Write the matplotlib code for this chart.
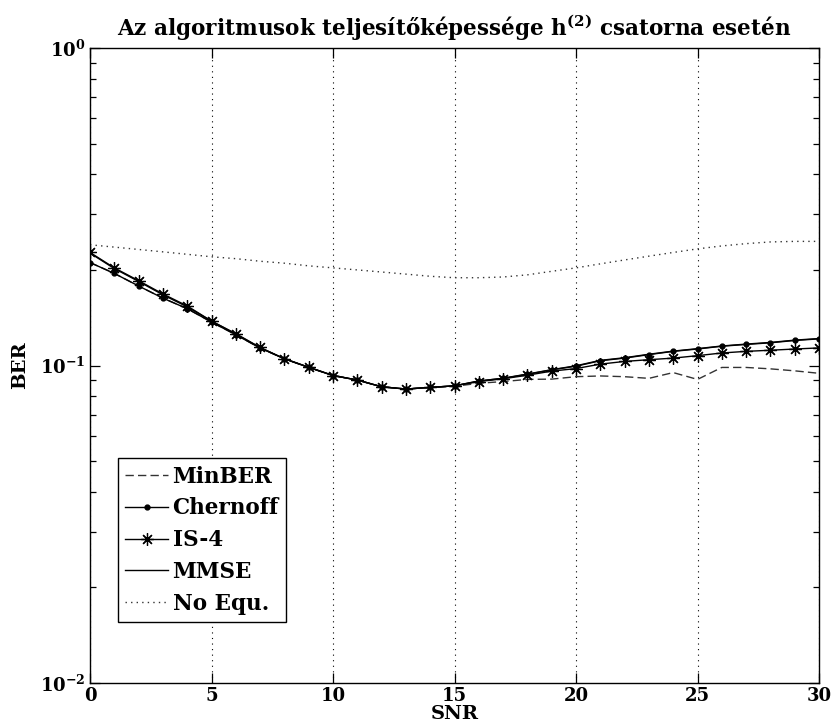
import numpy as np
import matplotlib
matplotlib.use("Agg")
import matplotlib.pyplot as plt

plt.rcParams['font.family'] = ['DejaVu Serif']
plt.rcParams['font.weight'] = 'bold'
plt.rcParams['mathtext.fontset'] = 'dejavuserif'

# SNR points and BER results of each equalizer
snr = list(range(0, 31))

minber = [0.211, 0.195, 0.178, 0.163, 0.151, 0.137, 0.125, 0.1135, 0.105, 0.0986,
          0.093, 0.090, 0.0857, 0.0843, 0.0853, 0.0860, 0.0879, 0.0890, 0.0904, 0.0906,
          0.0922, 0.0927, 0.0922, 0.0911, 0.0950, 0.0904, 0.0986, 0.0986, 0.0976, 0.0962,
          0.0945]
chernoff = [0.211, 0.195, 0.178, 0.163, 0.151, 0.137, 0.125, 0.1135, 0.105, 0.0986,
            0.093, 0.090, 0.0857, 0.0843, 0.0853, 0.0863, 0.0894, 0.0911, 0.0938, 0.0969,
            0.0995, 0.1035, 0.1055, 0.1082, 0.1108, 0.1127, 0.1150, 0.1165, 0.1179, 0.1199,
            0.1213]
is4 = [0.227, 0.203, 0.185, 0.168, 0.154, 0.138, 0.126, 0.114, 0.105, 0.0988,
       0.093, 0.090, 0.0857, 0.0843, 0.0853, 0.0863, 0.0890, 0.0908, 0.0932, 0.0960,
       0.0978, 0.1010, 0.1030, 0.1043, 0.1055, 0.1074, 0.1095, 0.1108, 0.1117, 0.1127,
       0.1136]
mmse = [0.226, 0.202, 0.184, 0.167, 0.153, 0.138, 0.1255, 0.1138, 0.105, 0.0987,
        0.093, 0.090, 0.0857, 0.0843, 0.0853, 0.0863, 0.0893, 0.0912, 0.0940, 0.0970,
        0.0998, 0.1038, 0.1058, 0.1085, 0.1110, 0.1130, 0.1152, 0.1168, 0.1182, 0.1202,
        0.1216]
no_equ = [0.240, 0.236, 0.232, 0.228, 0.224, 0.220, 0.217, 0.213, 0.210, 0.206,
          0.203, 0.200, 0.197, 0.194, 0.191, 0.189, 0.189, 0.190, 0.193, 0.198,
          0.203, 0.209, 0.215, 0.221, 0.227, 0.233, 0.238, 0.242, 0.245, 0.246,
          0.246]

fig = plt.figure(figsize=(8.35, 7.25), dpi=100)
ax = fig.add_axes([90 / 835, 1 - 683 / 725, 729 / 835, 635 / 725])

ax.plot(snr, minber, color='#333333', linestyle=(0, (6, 3)), linewidth=1.0, label='MinBER')
ax.plot(snr, chernoff, color='black', linewidth=1.0, marker='o', markersize=3.5, label='Chernoff')
ax.plot(snr, is4, color='black', linewidth=1.0, marker=(8, 2, 0), markersize=9,
        markeredgewidth=0.9, label='IS-4')
ax.plot(snr, mmse, color='black', linewidth=1.0, label='MMSE')
ax.plot(snr, no_equ, color='#333333', linestyle=(0, (1, 3)), linewidth=1.0, label='No Equ.')

ax.set_yscale('log')
ax.set_xlim(0, 30)
ax.set_ylim(1e-2, 1e0)
ax.set_xticks([0, 5, 10, 15, 20, 25, 30])
ax.set_yticks([1e-2, 1e-1, 1e0])
ax.set_yticklabels([r'$\mathbf{10^{-2}}$', r'$\mathbf{10^{-1}}$', r'$\mathbf{10^{0}}$'])
ax.tick_params(axis='both', which='both', direction='in', top=True, right=True,
               labelsize=13, width=0.9)
ax.tick_params(axis='both', which='major', length=7)
ax.tick_params(axis='both', which='minor', length=4)
ax.tick_params(axis='x', pad=3)
for lbl in ax.get_xticklabels():
    lbl.set_fontweight('bold')

# vertical dotted grid only
ax.xaxis.grid(True, linestyle=(0, (1, 4)), color='black', linewidth=0.8)
for sp in ax.spines.values():
    sp.set_linewidth(1.0)

ax.set_xlabel('SNR', fontsize=14, fontweight='bold', labelpad=0)
ax.set_ylabel('BER', fontsize=14, fontweight='bold', labelpad=8)
ax.set_title(r'Az algoritmusok teljesítőképessége $\mathbf{h^{(2)}}$ csatorna esetén',
             fontsize=15.5, fontweight='bold', pad=9)

leg = ax.legend(loc='lower left', bbox_to_anchor=(0.038, 0.096), fontsize=15.5,
                handlelength=2.0, handletextpad=0.2, borderpad=0.35, labelspacing=0.45,
                borderaxespad=0, fancybox=False, edgecolor='black', framealpha=1.0)
leg.get_frame().set_linewidth(1.0)

fig.savefig('out.png', dpi=100)
